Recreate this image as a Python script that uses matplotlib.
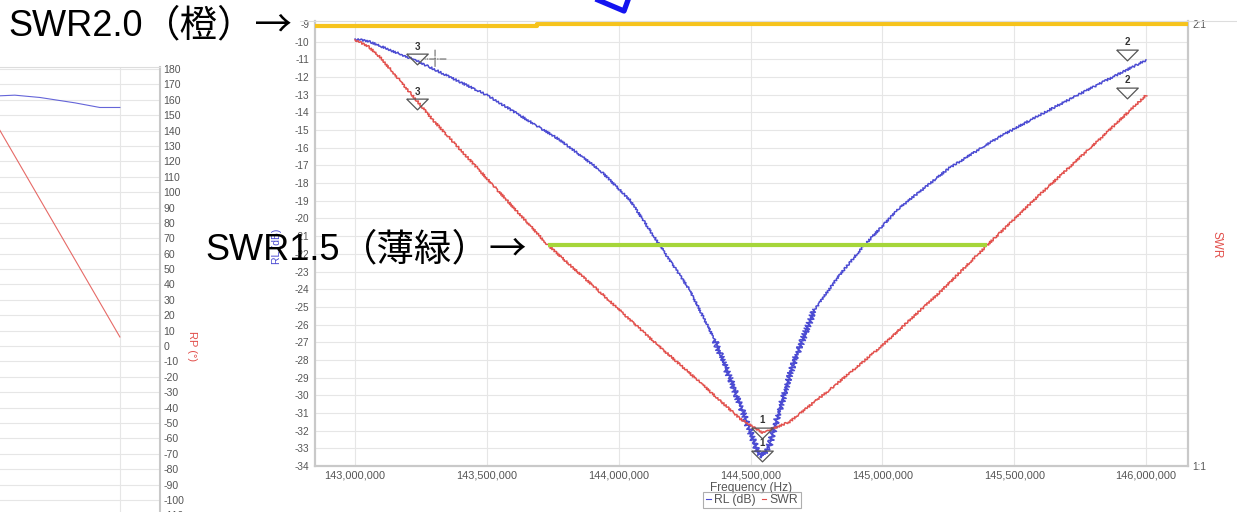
import numpy as np
import matplotlib
matplotlib.use("Agg")
import matplotlib.pyplot as plt
from matplotlib.lines import Line2D
from matplotlib.transforms import offset_copy
from matplotlib.ticker import FuncFormatter, FixedLocator

# ---------------- data ----------------
# Return loss sweep (blue), frequency in MHz, level in dB
rl_freq_mhz = [143.000, 143.049, 143.235, 143.500, 143.777, 143.928, 144.042,
               144.155, 144.269, 144.364, 144.439, 144.496, 144.527, 144.545,
               144.572, 144.610, 144.667, 144.742, 144.837, 144.932, 145.064,
               145.254, 145.443, 145.633, 145.822, 146.000]
rl_db = [-9.85, -9.96, -11.09, -13.02, -15.56, -17.26, -18.95,
         -21.50, -24.05, -26.87, -29.70, -31.96, -33.21, -33.43,
         -32.81, -30.83, -28.00, -25.18, -23.20, -21.50, -19.41,
         -17.14, -15.39, -13.86, -12.39, -11.04]

# SWR sweep (red)
swr_freq_mhz = [143.000, 143.049, 143.095, 143.235, 143.295, 143.473, 143.731,
                143.928, 144.117, 144.307, 144.458, 144.545, 144.648, 144.799,
                144.989, 145.216, 145.398, 145.595, 145.822, 146.000]
swr_vals = [1.964, 1.950, 1.925, 1.826, 1.783, 1.668, 1.500,
            1.394, 1.290, 1.190, 1.108, 1.075, 1.100, 1.172,
            1.267, 1.392, 1.500, 1.613, 1.738, 1.839]

# SWR reference levels
swr15_freq_mhz = [143.731, 145.398]
swr15_level = [1.5, 1.5]
swr20_freq_mhz = [142.848, 143.69, 143.69, 146.159]
swr20_level = [1.9966, 1.9966, 2.0, 2.0]

# Markers
marker_labels = ["3", "2", "1"]
marker_freq_mhz = [143.235, 145.928, 144.545]
rl_marker_db = [-10.98, -10.73, -33.43]
swr_marker_vals = [1.819, 1.845, 1.075]

# Neighbouring phase panel
phase_freq_blue = [145.533, 145.602, 145.697, 145.830, 145.924, 146.000]
phase_blue = [162.5, 163.0, 161.5, 158.0, 155.0, 155.0]
phase_freq_red = [145.533, 146.000]
phase_red = [143.8, 5.9]

x_ticks_mhz = [143.0, 143.5, 144.0, 144.5, 145.0, 145.5, 146.0]
rl_ticks = list(range(-34, -8))
phase_ticks = list(range(-110, 181, 10))

# Callout texts (latin part, kanji part)
callouts = [("SWR2.0", "（橙）→"), ("SWR1.5", "（薄緑）→")]

# ---------------- styling ----------------
W, H = 1237, 512
BLUE = "#4a4ad2"
RED = "#e2504c"
GRID = "#e6e6e6"
AXC = "#c9c9c9"
TXT = "#555555"
LATIN = ["Liberation Sans", "DejaVu Sans"]
CJK = ["Noto Sans CJK JP", "DejaVu Sans"]
plt.rcParams["font.family"] = ["Liberation Sans", "DejaVu Sans"]
plt.rcParams["axes.unicode_minus"] = False


def rect(l, t, r, b):
    return [l / W, 1 - b / H, (r - l) / W, (b - t) / H]


fig = plt.figure(figsize=(W / 100, H / 100), dpi=100)
fig.patch.set_facecolor("white")

# ---- phase panel (left, partially shown) ----
axp = fig.add_axes(rect(-100, 67, 160, 530))
axp.set_xlim(145.167, 146.152)
axp.set_ylim(-119.5, 181.3)
axp.plot(phase_freq_blue, phase_blue, color=BLUE, lw=0.8, alpha=0.85)
axp.plot(phase_freq_red, phase_red, color=RED, lw=0.8, alpha=0.85)
axp.yaxis.tick_right()
axp.yaxis.set_major_locator(FixedLocator(phase_ticks))
axp.xaxis.set_major_locator(FixedLocator([145.5, 146.0]))
axp.grid(True, color=GRID, lw=0.8)
axp.tick_params(axis="y", length=0, pad=2.5, labelsize=7.6, labelcolor=TXT)
axp.tick_params(axis="x", length=0, labelbottom=False)
for s in ("left", "bottom"):
    axp.spines[s].set_visible(False)
axp.spines["right"].set_color(AXC)
axp.spines["right"].set_linewidth(1.5)
axp.spines["top"].set_color("#dddddd")
axp.spines["top"].set_linewidth(0.8)
axp.yaxis.set_label_position("right")
axp.set_ylabel("RP (°)", color=RED, fontsize=8, rotation=270)
axp.yaxis.set_label_coords((197 + 100) / 260, (530 - 346) / 463)

# ---- main return-loss / SWR chart ----
ax = fig.add_axes(rect(315, 21, 1188, 466))
ax.set_xlim(142.848, 146.159)
ax.set_ylim(-34, -8.83)
ax.xaxis.set_major_locator(FixedLocator(x_ticks_mhz))
ax.yaxis.set_major_locator(FixedLocator(rl_ticks))
ax.xaxis.set_major_formatter(FuncFormatter(lambda v, p: f"{v * 1e6:,.0f}"))
ax.yaxis.set_major_formatter(FuncFormatter(lambda v, p: f"{v:.0f}"))
ax.grid(True, color=GRID, lw=0.8)
ax.set_axisbelow(True)
ax.tick_params(axis="both", length=0, labelcolor=TXT)
ax.tick_params(axis="y", pad=4, labelsize=7.2)
ax.tick_params(axis="x", pad=3, labelsize=7.9)
for s in ("left", "bottom", "right"):
    ax.spines[s].set_color(AXC)
    ax.spines[s].set_linewidth(1.6)
ax.spines["top"].set_color("#dddddd")
ax.spines["top"].set_linewidth(0.8)

ax.set_xlabel("Frequency (Hz)", fontsize=8.6, color=TXT, labelpad=1.0)
ax.set_ylabel("RL (dB)", fontsize=7.5, color=BLUE)
ax.yaxis.set_label_coords((282 - 315) / 873, (466 - 246) / 445)

rl_freq = np.array(rl_freq_mhz)
rl = np.array(rl_db)
line_rl, = ax.plot(rl_freq, rl, color=BLUE, lw=1.1, zorder=3)
line_rl.set_sketch_params(1.0, 3.0, 2.0)
dip = rl < -25
line_dip, = ax.plot(rl_freq[dip], rl[dip], color=BLUE, lw=1.1, zorder=3)
line_dip.set_sketch_params(3.0, 4.0, 2.0)

ax2 = ax.twinx()
ax2.set_ylim(1.0, 1 + (-8.83 + 34) / 25)
ax2.yaxis.set_major_locator(FixedLocator([1.0, 2.0]))
ax2.yaxis.set_major_formatter(FuncFormatter(lambda v, p: f"{v:.0f}:1"))
ax2.tick_params(axis="y", length=0, pad=3, labelsize=7.2, labelcolor=TXT)
for s in ax2.spines.values():
    s.set_visible(False)
ax2.set_ylabel("SWR", color=RED, fontsize=8.5, rotation=270)
ax2.yaxis.set_label_coords((1222 - 315) / 873, (466 - 245) / 445)

line_swr, = ax2.plot(swr_freq_mhz, swr_vals, color=RED, lw=1.1, zorder=3)
line_swr.set_sketch_params(1.0, 3.0, 2.0)
ax2.plot(swr15_freq_mhz, swr15_level, color="#a6d63a", lw=3.0,
         solid_capstyle="butt", zorder=4)
ax2.plot(swr20_freq_mhz, swr20_level, color="#f6c31c", lw=3.0,
         solid_capstyle="butt", zorder=4, clip_on=False)

# marker triangles with their numbers
tri = [(-1, 0.5), (1, 0.5), (0, -0.5), (-1, 0.5)]
for axis, vals in ((ax, rl_marker_db), (ax2, swr_marker_vals)):
    for lab, f, v in zip(marker_labels, marker_freq_mhz, vals):
        axis.plot([f], [v], marker=tri, ms=15.5, mfc="none", mec="#555555",
                  mew=0.9, ls="none", zorder=6)
        axis.annotate(lab, (f, v), xytext=(0, 9), textcoords="offset points",
                      ha="center", va="center", fontsize=7, color="#333333",
                      fontweight="bold", zorder=6)

# cursor cross beside marker 3
cur = offset_copy(ax.transData, fig=fig, x=18, y=0, units="dots")
pt = (marker_freq_mhz[0], rl_marker_db[0])
for a, b in (((-10, 0), (11, 0)), ((0, -9), (0, 9))):
    ax.annotate("", xy=pt, xycoords=offset_copy(cur, fig=fig, x=a[0], y=a[1], units="dots"),
                xytext=(b[0] - a[0], b[1] - a[1]), textcoords="offset pixels",
                arrowprops=dict(arrowstyle="-", color="#555555", lw=0.7,
                                linestyle="-.", shrinkA=0, shrinkB=0))

# legend below the axis title
handles = [Line2D([], [], color=BLUE, lw=0.8), Line2D([], [], color=RED, lw=0.8)]
leg = fig.legend(handles, ["RL (dB)", "SWR"], loc="center",
                 bbox_to_anchor=(752 / W, 1 - 500 / H), ncol=2, fontsize=8.8,
                 frameon=True, fancybox=False, handlelength=0.4,
                 handletextpad=0.25, columnspacing=0.5, borderpad=0.2,
                 borderaxespad=0)
leg.get_frame().set_edgecolor("#9a9a9a")
leg.get_frame().set_linewidth(0.8)
for t in leg.get_texts():
    t.set_color(TXT)

# frame edge running across the top
fig.add_artist(Line2D([300 / W, 1], [1 - 21 / H, 1 - 21 / H], color="#dddddd",
                      lw=0.8, transform=fig.transFigure))

# blue pointer tip at the top edge
fig.add_artist(Line2D([598 / W, 624 / W, 628 / W], [1.0, 1 - 11 / H, 1.0],
                      color="#1414f0", lw=3.8, solid_joinstyle="round",
                      transform=fig.transFigure))

# callouts for the SWR reference levels: latin part, then kanji part right after it
fig.canvas.draw()
renderer = fig.canvas.get_renderer()
for (latin, kanji), (x0, base) in zip(callouts, [(8, 36), (205, 260)]):
    t1 = fig.text(x0 / W, 1 - base / H, latin, family=LATIN, fontsize=26,
                  color="black", ha="left", va="baseline")
    x1 = t1.get_window_extent(renderer).x1
    fig.text(x1 / W, 1 - base / H, kanji, family=CJK, fontsize=27,
             color="black", ha="left", va="baseline")

fig.savefig("out.png", dpi=100, facecolor="white")
